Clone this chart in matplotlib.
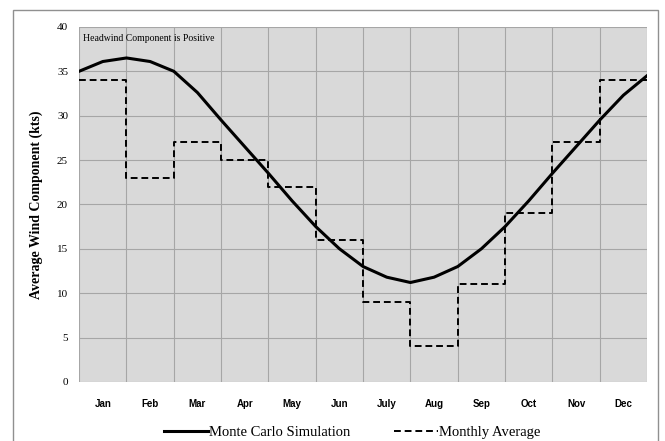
import matplotlib.pyplot as plt

months = ["Jan", "Feb", "Mar", "Apr", "May", "Jun", "July", "Aug", "Sep", "Oct", "Nov", "Dec"]
monthly_avg = [34, 23, 27, 25, 22, 16, 9, 4, 11, 19, 27, 34]
# Monte Carlo curve read at half-month steps
mc_x = [0, 0.5, 1, 1.5, 2, 2.5, 3, 3.5, 4, 4.5, 5, 5.5, 6, 6.5, 7, 7.5, 8, 8.5, 9, 9.5, 10, 10.5, 11, 11.5, 12]
mc_y = [35, 36.1, 36.5, 36.1, 35, 32.6, 29.5, 26.5, 23.5, 20.4, 17.5, 15, 13, 11.8, 11.2, 11.8, 13, 15, 17.5, 20.4, 23.5, 26.5, 29.5, 32.3, 34.5]

plt.rcParams['font.family'] = ['Liberation Serif', 'DejaVu Serif']
fig = plt.figure(figsize=(6.65, 4.41), dpi=100)
ax = fig.add_axes([0.119, 0.134, 0.854, 0.805])
ax.set_facecolor("#d9d9d9")

step_x = list(range(13))
step_y = monthly_avg + [monthly_avg[-1]]
ax.step(step_x, step_y, where="post", color="black", lw=1.4, ls=(0, (3.5, 2)), label="Monthly Average")
ax.plot(mc_x, mc_y, color="black", lw=2.2, label="Monte Carlo Simulation")

ax.set_xlim(0, 12)
ax.set_ylim(0, 40)
ax.set_xticks(range(13))
ax.set_xticklabels([])
ax.set_xticks([i + 0.5 for i in range(12)], minor=True)
ax.set_xticklabels(months, minor=True, fontsize=7, fontweight="bold", family=["Liberation Sans", "DejaVu Sans"])
ax.tick_params(axis="x", which="both", length=0, pad=12)
ax.set_yticks(range(0, 41, 5))
ax.tick_params(axis="y", labelsize=8, length=0, pad=8)
ax.grid(True, which="major", color="#a6a6a6", lw=0.8)
ax.set_axisbelow(True)
for s in ax.spines.values():
    s.set_visible(False)
ax.set_ylabel("Average Wind Component (kts)", fontsize=10, fontweight="bold", labelpad=10)
ax.text(0.08, 38.4, "Headwind Component is Positive", fontsize=7)

h, l = ax.get_legend_handles_labels()
fig.legend(h[::-1], l[::-1], loc="lower center", bbox_to_anchor=(0.53, -0.025), ncol=2,
           frameon=False, fontsize=10.5, handlelength=3, handletextpad=0.1, columnspacing=3)
fig.patches.append(plt.Rectangle((0.02, -0.1), 0.97, 1.077, transform=fig.transFigure,
                                 fill=False, ec="#909090", lw=1))
fig.savefig("out.png")
